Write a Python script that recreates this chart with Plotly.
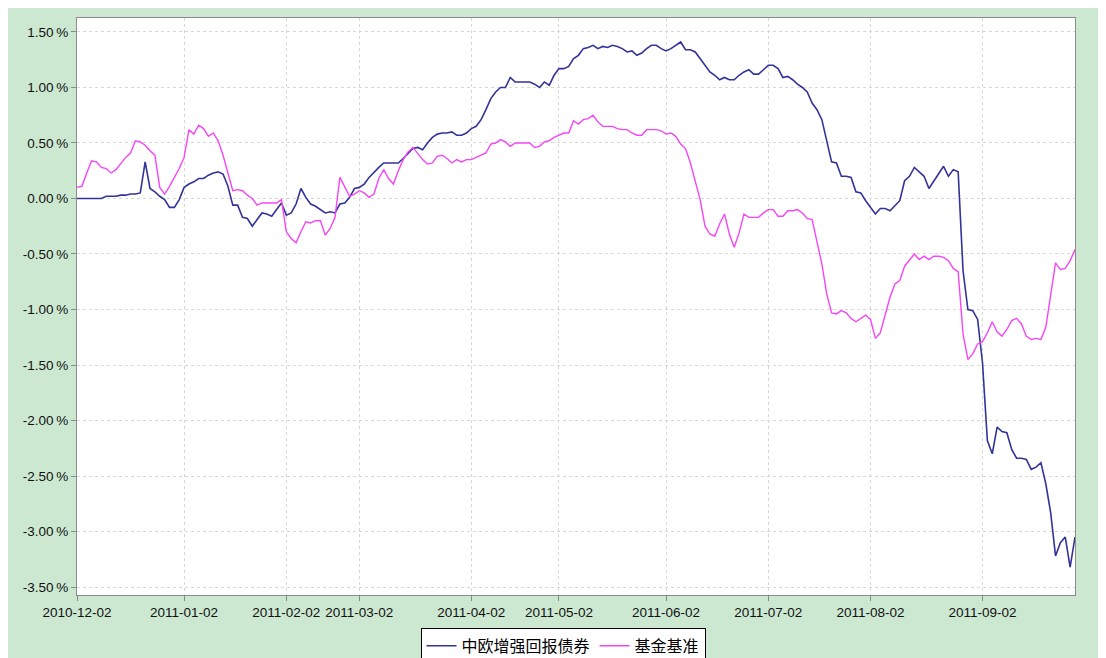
import pandas as pd
import plotly.graph_objects as go

# Trading calendar (Shanghai market) for the period shown
start_date = "2010-12-02"
end_date = "2011-09-30"
holidays = ["2011-01-03", "2011-02-02", "2011-02-03", "2011-02-04", "2011-02-07",
            "2011-02-08", "2011-04-04", "2011-04-05", "2011-05-02", "2011-06-06",
            "2011-09-12"]
dates = [d.strftime("%Y-%m-%d") for d in pd.bdate_range(start_date, end_date)
         if d.strftime("%Y-%m-%d") not in holidays]

tick_labels = ["2010-12-02", "2011-01-02", "2011-02-02", "2011-03-02", "2011-04-02",
               "2011-05-02", "2011-06-02", "2011-07-02", "2011-08-02", "2011-09-02"]

fund = [
    0.00, 0.00, 0.00, 0.00, 0.00, 0.00, 0.02, 0.02, 0.02, 0.03,
    0.03, 0.04, 0.04, 0.05, 0.33, 0.09, 0.06, 0.02, -0.01, -0.08,
    -0.08, -0.01, 0.10, 0.13, 0.15, 0.18, 0.18, 0.21, 0.23, 0.24,
    0.22, 0.11, -0.06, -0.06, -0.17, -0.18, -0.25, -0.19, -0.13, -0.14,
    -0.16, -0.10, -0.04, -0.15, -0.13, -0.05, 0.09, 0.01, -0.05, -0.07,
    -0.10, -0.13, -0.12, -0.13, -0.05, -0.04, 0.01, 0.09, 0.10, 0.13,
    0.19, 0.24, 0.28, 0.32, 0.32, 0.32, 0.32, 0.36, 0.41, 0.45,
    0.46, 0.44, 0.50, 0.55, 0.58, 0.59, 0.59, 0.60, 0.57, 0.57,
    0.59, 0.63, 0.65, 0.71, 0.80, 0.90, 0.96, 1.00, 1.00, 1.09,
    1.05, 1.05, 1.05, 1.05, 1.03, 1.00, 1.05, 1.02, 1.11, 1.17,
    1.17, 1.19, 1.26, 1.29, 1.35, 1.36, 1.38, 1.35, 1.37, 1.36,
    1.38, 1.37, 1.35, 1.32, 1.33, 1.29, 1.31, 1.35, 1.38, 1.38,
    1.35, 1.33, 1.35, 1.38, 1.41, 1.34, 1.34, 1.32, 1.26, 1.19,
    1.14, 1.11, 1.07, 1.09, 1.07, 1.07, 1.11, 1.14, 1.16, 1.12,
    1.12, 1.16, 1.20, 1.20, 1.17, 1.09, 1.10, 1.07, 1.03, 1.00,
    0.96, 0.86, 0.80, 0.71, 0.53, 0.33, 0.32, 0.20, 0.20, 0.19,
    0.06, 0.05, -0.02, -0.08, -0.14, -0.09, -0.09, -0.11, -0.06, -0.02,
    0.16, 0.20, 0.28, 0.24, 0.20, 0.09, 0.16, 0.22, 0.29, 0.20,
    0.26, 0.24, -0.65, -1.00, -1.01, -1.09, -1.48, -2.18, -2.30, -2.06,
    -2.10, -2.11, -2.26, -2.34, -2.34, -2.35, -2.44, -2.42, -2.38, -2.57,
    -2.83, -3.22, -3.10, -3.05, -3.32, -3.05,
]

benchmark = [
    0.10, 0.11, 0.23, 0.34, 0.33, 0.28, 0.27, 0.23, 0.26, 0.32,
    0.37, 0.41, 0.52, 0.51, 0.48, 0.43, 0.39, 0.10, 0.04, 0.11,
    0.19, 0.27, 0.37, 0.62, 0.58, 0.66, 0.63, 0.56, 0.59, 0.52,
    0.39, 0.23, 0.07, 0.08, 0.07, 0.03, 0.00, -0.06, -0.04, -0.04,
    -0.04, -0.04, -0.01, -0.30, -0.36, -0.40, -0.30, -0.21, -0.22, -0.20,
    -0.20, -0.33, -0.27, -0.17, 0.19, 0.10, 0.02, 0.04, 0.07, 0.05,
    0.01, 0.04, 0.18, 0.26, 0.18, 0.13, 0.25, 0.35, 0.42, 0.46,
    0.40, 0.35, 0.31, 0.32, 0.38, 0.39, 0.36, 0.32, 0.35, 0.33,
    0.35, 0.35, 0.37, 0.39, 0.41, 0.49, 0.50, 0.53, 0.51, 0.47,
    0.50, 0.50, 0.50, 0.50, 0.46, 0.47, 0.51, 0.52, 0.55, 0.57,
    0.59, 0.59, 0.70, 0.67, 0.71, 0.72, 0.75, 0.69, 0.65, 0.65,
    0.65, 0.63, 0.62, 0.62, 0.59, 0.57, 0.57, 0.62, 0.62, 0.62,
    0.61, 0.58, 0.59, 0.56, 0.49, 0.45, 0.32, 0.16, -0.01, -0.25,
    -0.32, -0.34, -0.23, -0.14, -0.32, -0.44, -0.31, -0.14, -0.17, -0.17,
    -0.17, -0.13, -0.10, -0.10, -0.16, -0.16, -0.11, -0.11, -0.10, -0.13,
    -0.18, -0.19, -0.40, -0.59, -0.86, -1.03, -1.04, -1.01, -1.03, -1.08,
    -1.11, -1.08, -1.05, -1.09, -1.26, -1.21, -1.06, -0.89, -0.77, -0.74,
    -0.61, -0.55, -0.50, -0.55, -0.52, -0.55, -0.52, -0.52, -0.53, -0.56,
    -0.63, -0.66, -1.22, -1.45, -1.40, -1.31, -1.29, -1.21, -1.11, -1.20,
    -1.24, -1.18, -1.10, -1.08, -1.13, -1.24, -1.27, -1.26, -1.27, -1.16,
    -0.88, -0.58, -0.64, -0.63, -0.56, -0.46,
]

series_names = ["中欧增强回报债券", "基金基准"]
y_ticks = [1.5, 1.0, 0.5, 0.0, -0.5, -1.0, -1.5, -2.0, -2.5, -3.0, -3.5]

# tick positions: first trading day on/after each label date
tick_vals = [next(d for d in dates if d >= t) for t in tick_labels]

fig = go.Figure()
fig.add_trace(go.Scatter(x=dates, y=fund, mode="lines", name=series_names[0],
                         line=dict(color="#33339a", width=1.6)))
fig.add_trace(go.Scatter(x=dates, y=benchmark, mode="lines", name=series_names[1],
                         line=dict(color="#f545f5", width=1.4)))

font_family = "Liberation Sans, Arial, sans-serif"
fig.update_layout(
    width=1098, height=672,
    margin=dict(l=69, r=31, t=10, b=85),
    paper_bgcolor="#cde8d1",
    plot_bgcolor="#ffffff",
    font=dict(family=font_family, size=13.5, color="#111111"),
    showlegend=True,
    legend=dict(orientation="h", x=0.487, xanchor="center", y=-0.057, yanchor="top",
                bgcolor="#ffffff", bordercolor="#000000", borderwidth=1,
                font=dict(family="Noto Sans CJK SC, sans-serif", size=16, color="#000000"),
                itemwidth=30, tracegroupgap=0),
)
fig.update_xaxes(
    type="category", range=[0, len(dates) - 1],
    tickmode="array", tickvals=tick_vals, ticktext=tick_labels, tickangle=0,
    showgrid=True, gridcolor="#d8d8d8", griddash="3px,3px", gridwidth=1,
    ticks="outside", ticklen=5, tickcolor="#888888",
    showline=True, linecolor="#8c8c8c", linewidth=1, mirror=True,
    tickfont=dict(size=13.5, color="#111111"), zeroline=False,
)
fig.update_yaxes(
    range=[-3.572, 1.626], tickmode="array", tickvals=y_ticks,
    ticktext=[f"{v:.2f}\u2009%" for v in y_ticks],
    showgrid=True, gridcolor="#d8d8d8", griddash="3px,3px", gridwidth=1,
    ticks="outside", ticklen=5, tickcolor="#888888",
    showline=True, linecolor="#8c8c8c", linewidth=1, mirror=True,
    tickfont=dict(size=13.5, color="#111111"), zeroline=False,
)

fig.write_html("out.html")
